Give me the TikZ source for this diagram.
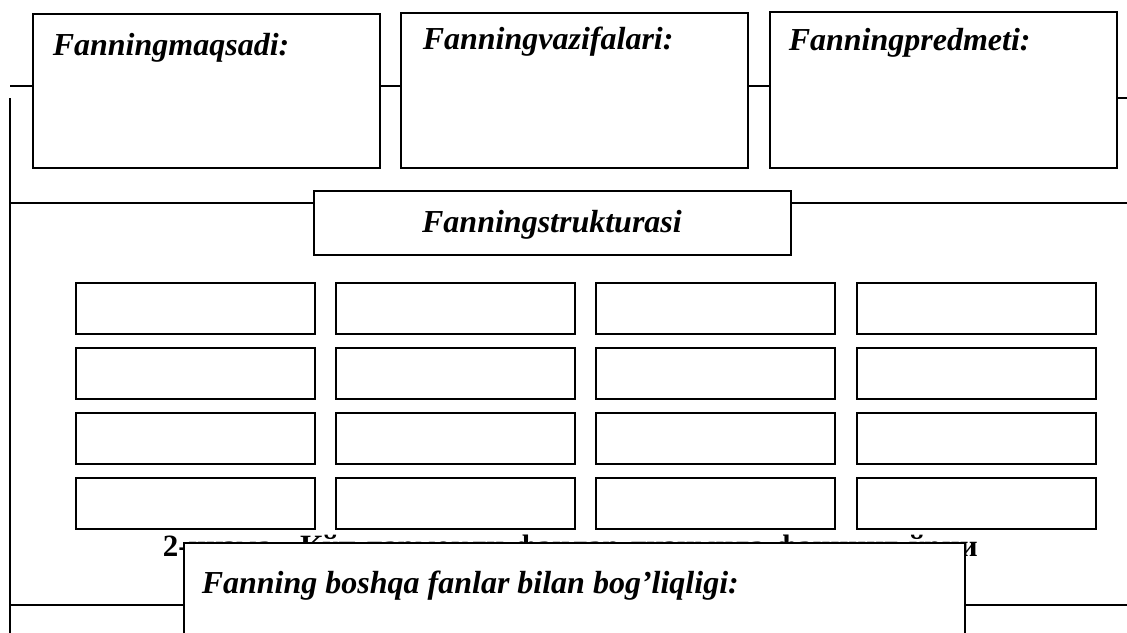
\documentclass[tikz,border=0pt]{standalone}
\usepackage{fontspec}
\setmainfont{Liberation Serif}
\usetikzlibrary{positioning}
\begin{document}
\begin{tikzpicture}[x=1pt,y=-1pt,
  every path/.style={line width=1.6pt},
  box/.style={draw, line width=1.6pt, rectangle, inner sep=0pt, fill=white},
  cell/.style={box, minimum width=239pt, minimum height=51pt, anchor=north west},
  lab/.style={font=\fontsize{32}{38}\selectfont\bfseries\itshape, anchor=base west, inner sep=0pt},
  captext/.style={font=\fontsize{31}{37}\selectfont\bfseries, anchor=base west, inner sep=0pt},
  wire/.style={draw, line width=1.6pt}]
\useasboundingbox (0,0) rectangle (1127,632);

% top boxes
\node[box, minimum width=347pt, minimum height=154pt, anchor=north west] (b1) at (32,13) {};
\node[box, minimum width=347pt, minimum height=155pt, anchor=north west] (b2) at (400,12) {};
\node[box, minimum width=347pt, minimum height=156pt, anchor=north west] (b3) at (769,11) {};
\node[lab] (t1) at (52,55) {Fanningmaqsadi:};
\node[lab] (t2) at (422,49) {Fanningvazifalari:};
\node[lab] (t3) at (788,50) {Fanningpredmeti:};

% connectors of the top row
\coordinate (L0) at (10,86);
\coordinate (V0) at (10,98);
\coordinate (V1) at (10,640);
\coordinate (R0) at (1127,98);
\draw[wire] (L0) -- (L0 -| b1.west);
\draw[wire] (b1.east |- L0) -- (b2.west |- L0);
\draw[wire] (b2.east |- L0) -- (b3.west |- L0);
\draw[wire] (b3.east |- R0) -- (R0);
\draw[wire] (V0) -- (V1);

% structure box
\node[box, minimum width=477pt, minimum height=64pt, anchor=north west] (s) at (313,190) {};
\node[lab, anchor=base] (ts) at (552,232) {Fanningstrukturasi};
\coordinate (SL) at (10,203);
\coordinate (SR) at (1127,203);
\draw[wire] (SL) -- (SL -| s.west);
\draw[wire] (s.east |- SR) -- (SR);

% grid of cells
\foreach \c/\x in {1/75,2/335,3/595,4/856}{
  \foreach \r/\y in {1/282,2/347,3/412,4/477}{
    \node[cell] (c\r\c) at (\x,\y) {};
  }
}

% caption (mostly hidden behind the lower box)
\node[captext] (capt) at (162,556) {\makebox[815pt][s]{2-чизма. Кўп тармоқли фанлар тизимида фаннинг ўрни}};

% lower box
\node[box, minimum width=781pt, minimum height=110pt, anchor=north west] (b4) at (183,542) {};
\node[lab] (t4) at (201,593) {Fanning boshqa fanlar bilan bog’liqligi:};
\coordinate (BL) at (10,605);
\coordinate (BR) at (1127,605);
\draw[wire] (BL) -- (BL -| b4.west);
\draw[wire] (b4.east |- BR) -- (BR);
\end{tikzpicture}
\end{document}
